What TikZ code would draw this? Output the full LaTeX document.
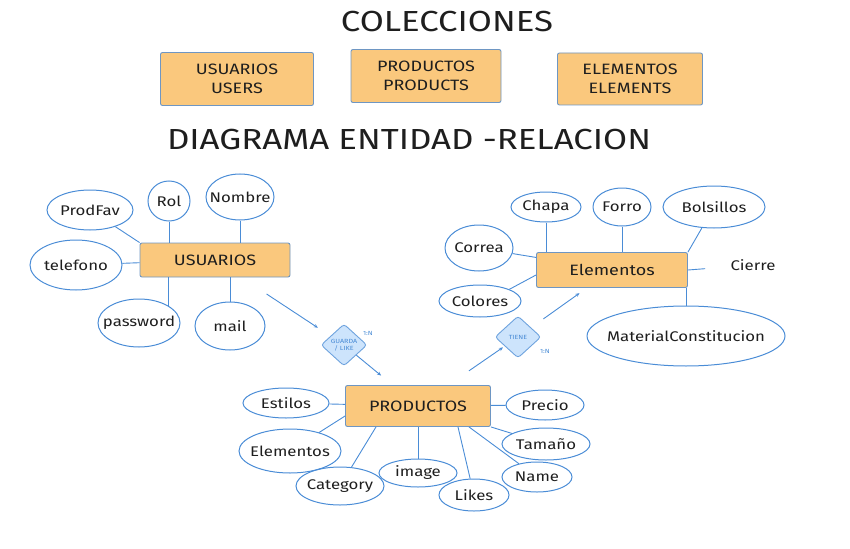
\documentclass[tikz,border=0pt]{standalone}
\usepackage{fontspec}
\setmainfont{Fira Sans}[FakeStretch=1.2]
\usetikzlibrary{shapes.geometric,arrows.meta}
\definecolor{azul}{RGB}{74,140,214}
\definecolor{naranja}{RGB}{250,200,125}
\definecolor{bordeent}{RGB}{110,150,195}
\definecolor{celeste}{RGB}{205,228,252}
\definecolor{tinta}{RGB}{30,30,30}
\tikzset{
  entidad/.style={draw=bordeent, fill=naranja, rounded corners=2pt, line width=0.9pt,
    text=tinta, font=\fontsize{15}{18}\selectfont, inner sep=0pt},
  coleccion/.style={entidad, align=center, font=\fontsize{15}{19}\selectfont},
  atributo/.style={ellipse, draw=azul, line width=1pt, text=tinta,
    font=\fontsize{14}{16}\selectfont, inner ysep=0pt, inner xsep=-12pt},
  relacion/.style={diamond, draw=azul!80, fill=celeste, line width=0.9pt, rounded corners=3pt,
    text=azul, font=\fontsize{6}{7}\selectfont, align=center, inner sep=0pt,
    minimum width=46pt, minimum height=42pt},
  enlace/.style={draw=azul, line width=0.9pt},
  flecha/.style={enlace, -{Stealth[length=4pt,width=3.5pt]}},
  card/.style={text=azul, font=\fontsize{6}{7}\selectfont},
  titulo/.style={text=tinta, font=\fontsize{29}{33}\selectfont}
}
\begin{document}
\begin{tikzpicture}[x=1pt,y=-1pt]
    \useasboundingbox (0,0) rectangle (850,548);

    % Colecciones
    \node[titulo] (colecciones) at (447,22) {COLECCIONES};
    \node[coleccion, minimum width=153pt, minimum height=53pt] (colusers) at (237,79) {USUARIOS\\USERS};
    \node[coleccion, minimum width=150pt, minimum height=53pt] (colproducts) at (426,76) {PRODUCTOS\\PRODUCTS};
    \node[coleccion, minimum width=145pt, minimum height=52pt] (colelements) at (630,79) {ELEMENTOS\\ELEMENTS};

    % Diagrama entidad - relacion
    \node[titulo] (diagrama) at (409,140) {DIAGRAMA ENTIDAD -RELACION};

    % Entidad USUARIOS y sus atributos
    \node[entidad, minimum width=150pt, minimum height=34pt] (usuarios) at (215,260) {USUARIOS};
    \node[atributo, minimum width=86pt, minimum height=40pt] (prodfav) at (90,210) {ProdFav};
    \node[atributo, minimum width=42pt, minimum height=40pt] (rol) at (169,201) {Rol};
    \node[atributo, minimum width=68pt, minimum height=46pt] (nombre) at (240,197) {Nombre};
    \node[atributo, minimum width=92pt, minimum height=50pt] (telefono) at (76,265) {telefono};
    \node[atributo, minimum width=82pt, minimum height=48pt] (password) at (139,323) {password};
    \node[atributo, minimum width=70pt, minimum height=48pt] (mail) at (230,326) {mail};

    \draw[enlace] (prodfav) -- (usuarios.north west);
    \draw[enlace] (rol.south) -- (rol.south |- usuarios.north);
    \draw[enlace] (nombre.south) -- (nombre.south |- usuarios.north);
    \draw[enlace] (telefono) -- (usuarios);
    \draw[enlace] (password.north east |- usuarios.south) -- (password.north east);
    \draw[enlace] (mail.north |- usuarios.south) -- (mail.north);

    % Entidad Elementos y sus atributos
    \node[entidad, minimum width=151pt, minimum height=35pt] (elementos) at (612,270) {Elementos};
    \node[atributo, minimum width=70pt, minimum height=30pt] (chapa) at (546,207) {Chapa};
    \node[atributo, minimum width=58pt, minimum height=38pt] (forro) at (622,207) {Forro};
    \node[atributo, minimum width=102pt, minimum height=42pt] (bolsillos) at (714,207) {Bolsillos};
    \node[atributo, minimum width=68pt, minimum height=46pt] (correa) at (479,248) {Correa};
    \node[atributo, minimum width=82pt, minimum height=32pt] (colores) at (480,301) {Colores};
    \node[text=tinta, font=\fontsize{14}{16}\selectfont] (cierre) at (753,265) {Cierre};
    \node[atributo, minimum width=198pt, minimum height=60pt] (material) at (686,336) {MaterialConstitucion};

    \draw[enlace] (chapa.south) -- (chapa.south |- elementos.north);
    \draw[enlace] (forro.south) -- (forro.south |- elementos.north);
    \draw[enlace] (bolsillos) -- (elementos.north east);
    \draw[enlace] (correa) -- (elementos);
    \draw[enlace] (colores.north east) -- ([yshift=-5pt]elementos.west);
    \draw[enlace, shorten >=22pt] (elementos.east) -- (cierre);
    \draw[enlace] (material.north |- elementos.south) -- (material.north);

    % Entidad PRODUCTOS y sus atributos
    \node[entidad, minimum width=145pt, minimum height=41pt] (productos) at (418,406) {PRODUCTOS};
    \node[atributo, minimum width=86pt, minimum height=30pt] (estilos) at (286,403) {Estilos};
    \node[atributo, minimum width=102pt, minimum height=44pt] (pelementos) at (290,451) {Elementos};
    \node[atributo, minimum width=88pt, minimum height=38pt] (category) at (340,486) {Category};
    \node[atributo, minimum width=78pt, minimum height=28pt] (image) at (418,473) {image};
    \node[atributo, minimum width=70pt, minimum height=32pt] (likes) at (474,495) {Likes};
    \node[atributo, minimum width=70pt, minimum height=30pt] (name) at (537,477) {Name};
    \node[atributo, minimum width=88pt, minimum height=32pt] (tamano) at (546,444) {Tamaño};
    \node[atributo, minimum width=78pt, minimum height=30pt] (precio) at (545,405) {Precio};

    \draw[enlace] (estilos) -- (productos);
    \draw[enlace] (pelementos) -- ([yshift=-10pt]productos.west);
    \draw[enlace] ([xshift=-42pt]productos.south) -- (category);
    \draw[enlace] (image.north |- productos.south) -- (image.north);
    \draw[enlace] ([xshift=40pt]productos.south) -- (likes);
    \draw[enlace] ([xshift=51pt]productos.south) -- (name);
    \draw[enlace] (productos.south east) -- (tamano);
    \draw[enlace] (precio) -- (productos);

    % Relaciones
    \node[relacion] (guarda) at (344,345) {GUARDA\\/ LIKE};
    \node[card] (cardguarda) at (368,333) {1:N};
    \node[relacion] (tiene) at (518,337) {TIENE};
    \node[card] (cardtiene) at (545,351) {1:N};

    \draw[flecha, shorten <=30pt, shorten >=15pt] (usuarios) -- (guarda);
    \draw[flecha, shorten >=15pt] (guarda) -- (productos);
    \draw[flecha, shorten <=25pt, shorten >=2pt] (productos) -- (tiene);
    \draw[flecha, shorten <=15pt, shorten >=9pt] (tiene) -- (elementos);
\end{tikzpicture}
\end{document}
